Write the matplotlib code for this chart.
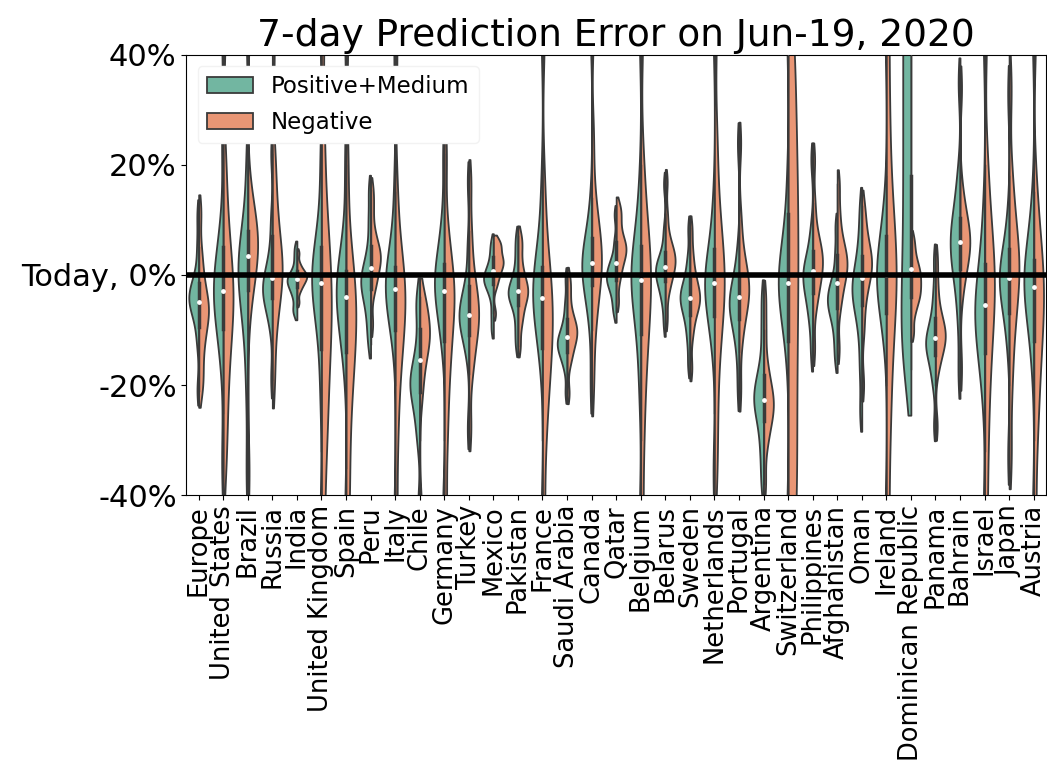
import matplotlib
matplotlib.use("Agg")
import matplotlib.pyplot as plt
import numpy as np
import pandas as pd
import seaborn as sns

COUNTRIES = [
    "Europe", "United States", "Brazil", "Russia", "India", "United Kingdom",
    "Spain", "Peru", "Italy", "Chile", "Germany", "Turkey", "Mexico",
    "Pakistan", "France", "Saudi Arabia", "Canada", "Qatar", "Belgium",
    "Belarus", "Sweden", "Netherlands", "Portugal", "Argentina",
    "Switzerland", "Philippines", "Afghanistan", "Oman", "Ireland",
    "Dominican Republic", "Panama", "Bahrain", "Israel", "Japan", "Austria",
]

# prediction errors (%), one list per country
POSITIVE = [
    [-21, -12, -8, -6, -5, -4.5, -4, -3, -2, 0, 5, 11],
    [-34, -15, -9, -6, -4, -3, -2, 0, 3, 8, 25, 45],
    [-36, -20, -10, -5, -2, 0, 1.5, 3, 5, 8, 20, 45],
    [-19, -9, -6, -4, -3, -2.5, -2, -1, 1, 4, 10, 22],
    [-7, -6, -4, -3, -2, -1.5, -1, -0.5, 0, 1, 3, 5],
    [-45, -20, -8, -4, -2, -1, 0, 1, 2, 5, 20, 45],
    [-45, -14, -10, -6, -4, -3, -2, -1, 0, 3, 20, 45],
    [-12.5, -9, -6, -4, -2.5, -1.5, -0.5, 0.5, 2, 5, 10, 15.5],
    [-45, -10, -6, -4, -3, -2, -1, 0, 1, 3, 15, 40],
    [-42, -30, -26, -23, -21, -20, -19, -18, -16, -12, -6, -4],
    [-42, -12, -8, -5, -3, -2, -1, 0.5, 2, 5, 10, 22],
    [-28, -14, -11, -9, -8, -7.5, -7, -6, -4, -2, 5, 17],
    [-10, -7, -4, -2.5, -1.5, -1, -0.5, 0, 1, 2, 4, 6],
    [-13, -10, -7, -5, -4, -3.5, -3, -2, -1, 1, 4, 7],
    [-45, -14, -9, -6, -4.5, -3.5, -2.5, -1, 1, 4, 15, 45],
    [-21.5, -17, -15, -14, -13, -12.5, -12, -11, -10, -8, -5, -0.5],
    [-20, -8, -4, -1, 0.5, 1.5, 2, 3, 4, 6, 12, 45],
    [-7, -5, -3, -2, -1, -0.5, 0, 1, 2, 3, 6, 11],
    [-45, -20, -10, -5, -2, -1, 0, 1, 3, 6, 15, 45],
    [-9, -5, -3, -1.5, -0.5, 0.5, 1, 1.5, 2.5, 4, 8, 16.5],
    [-16.5, -12, -9, -7, -5.5, -4.5, -4, -3, -2, 0, 3, 8.5],
    [-36, -12, -7, -4, -3, -2, -1, 0, 1, 4, 12, 45],
    [-21, -14, -10, -8, -6, -5.5, -5, -4, -2.5, -0.5, 4, 24],
    [-38, -33, -29, -26, -24, -23, -22, -20.5, -19, -16, -10, -4],
    [-45, -12, -6, -4, -2.5, -1.5, -0.5, 0.5, 2, 5, 15, 45],
    [-14.5, -9, -6, -4, -2, -1, 0, 1, 2, 4, 8, 21],
    [-15.5, -12, -9, -7, -6, -5, -4, -3, -2, 0, 4, 9],
    [-25, -17, -11, -7, -5, -3.5, -2.5, -1, 0.5, 3, 7, 12.5],
    [-45, -10, -5, -3, -1.5, -0.5, 0.5, 1.5, 3, 6, 12, 45],
    [-17, -13, -8, -2, 4, 11, 18, 25, 32, 39, 46, 53, 60],
    [-27.5, -20, -17, -15, -13.5, -12.5, -12, -11, -9.5, -7, -3, 3],
    [-18, -8, -2, 1, 3, 5, 6.5, 8, 10, 13, 18, 35],
    [-45, -20, -14, -11, -9, -7, -6, -4, -2, 1, 10, 45],
    [-33, -12, -7, -4, -2, -1, -0.5, 0.5, 2, 4, 10, 33],
    [-45, -15, -8, -5, -3, -1.5, -0.5, 0.5, 2, 5, 12, 45],
]

NEGATIVE = [
    [-21, -18, -14, -11, -9, -7, -6, -5, -3, 0, 4, 11.5],
    [-34, -25, -18, -12, -8, -5, -3, 0, 4, 10, 20, 45],
    [-36, -5, 0, 2, 4, 5, 6, 7, 8, 10, 14, 45],
    [-19, -10, -5, -2, 0, 1.5, 3, 6, 10, 15, 22, 40],
    [-5, -3, -2, -1.5, -1, -0.5, -0.2, 0, 0.5, 1, 2, 4],
    [-45, -32, -25, -18, -12, -8, -4, 0, 5, 12, 25, 45],
    [-45, -35, -25, -18, -14, -10, -7, -4, -1, 3, 20, 45],
    [-9, -3, -1, 0.5, 2, 3, 3.5, 4.5, 6, 8, 12, 15.5],
    [-45, -30, -20, -14, -10, -7, -4, -2, 0, 3, 15, 40],
    [-42, -22, -18, -15, -13, -12, -11, -10, -9, -7, -5, -4],
    [-42, -30, -22, -16, -12, -8, -5, -3, -1, 2, 8, 22],
    [-28, -18, -14, -11, -9, -7.5, -6, -4, -2, 2, 8, 17],
    [-7, -2, -0.5, 0.5, 1.5, 2, 2.5, 3, 4, 5, 6, 6],
    [-13, -9, -7, -5, -4, -3, -2.5, -1.5, 0, 2, 5, 7],
    [-45, -30, -22, -17, -13, -10, -7, -4, -1, 3, 15, 45],
    [-21.5, -16, -14, -12.5, -11.5, -10.5, -10, -9, -8, -6, -3, -0.5],
    [-20, -10, -5, -1, 1, 2.5, 4, 6, 9, 14, 25, 45],
    [-5, -1, 1, 2.5, 3.5, 4.5, 5, 6, 7, 9, 11, 12.5],
    [-45, -30, -20, -13, -8, -4, -1, 2, 5, 10, 20, 45],
    [-8, -3, -1, 0.5, 1.5, 2.5, 3, 4, 5, 7, 11, 17],
    [-17, -11, -8, -6, -5, -4.5, -3.5, -2.5, -1, 1, 4, 8.5],
    [-36, -25, -15, -9, -5, -2, 0, 3, 7, 14, 25, 45],
    [-21, -12, -8, -5.5, -4, -3, -2, -0.5, 1.5, 4, 10, 24],
    [-38, -31, -28, -26, -24.5, -23.5, -22.5, -21, -19, -16, -10, -4],
    [-50, -42, -34, -26, -18, -10, -3, 4, 11, 18, 26, 35, 45],
    [-13.5, -6, -3, -1, 0.5, 2, 3, 4, 5.5, 8, 13, 21],
    [-13.5, -6, -3, -1, 0.5, 1.5, 2.5, 3.5, 5, 7, 11, 16.5],
    [-20, -10, -5, -2, 0, 1, 2, 3, 4.5, 6, 9, 12.5],
    [-45, -30, -20, -12, -6, -2, 1, 5, 10, 18, 30, 45],
    [-10.5, -7, -5, -4, -3, -2, -1, 0, 1, 2, 4, 6.5],
    [-27.5, -17, -14.5, -13, -12, -11, -10.5, -9.5, -8, -6, -2, 3],
    [-17, -3, 1, 3, 4.5, 5.5, 6.5, 7.5, 9, 11, 15, 34],
    [-45, -32, -22, -15, -9, -5, -2, 1, 5, 10, 20, 45],
    [-33, -20, -12, -7, -3, -0.5, 1.5, 4, 7, 11, 18, 34],
    [-45, -30, -22, -16, -11, -7, -4, -1, 2, 6, 15, 45],
]

GROUPS = ["Positive+Medium", "Negative"]
Y_TICKS = [-40, -20, 0, 20, 40]
Y_TICK_LABELS = ["-40%", "-20%", "Today, 0%", "20%", "40%"]


def build_frame() -> pd.DataFrame:
    rows = []
    for country, pos, neg in zip(COUNTRIES, POSITIVE, NEGATIVE):
        for value in pos:
            rows.append({"country": country, "group": GROUPS[0], "error": value})
        for value in neg:
            rows.append({"country": country, "group": GROUPS[1], "error": value})
    return pd.DataFrame(rows)


def main() -> None:
    df = build_frame()
    fig = plt.figure(figsize=(10.47, 7.81), dpi=100)
    ax = fig.add_axes([0.178, 0.366, 0.821, 0.564])

    sns.violinplot(
        data=df,
        x="country",
        y="error",
        hue="group",
        hue_order=GROUPS,
        order=COUNTRIES,
        split=True,
        inner=None,
        cut=1,
        density_norm="width",
        bw_adjust=0.55,
        palette="Set2",
        linewidth=1.3,
        linecolor="#3a3a3a",
        width=0.8,
        ax=ax,
    )

    # inner box drawn at the centre of each split violin
    for i, (pos, neg) in enumerate(zip(POSITIVE, NEGATIVE)):
        values = np.array(pos + neg, dtype=float)
        q1, med, q3 = np.percentile(values, [25, 50, 75])
        iqr = q3 - q1
        lo = values[values >= q1 - 1.5 * iqr].min()
        hi = values[values <= q3 + 1.5 * iqr].max()
        ax.plot([i, i], [lo, hi], color="#3a3a3a", linewidth=1.0, zorder=3)
        ax.plot([i, i], [q1, q3], color="#3a3a3a", linewidth=2.5, zorder=3)
        ax.scatter(i, med, s=6, color="white", zorder=4)

    ax.axhline(0, color="black", linewidth=4, zorder=5)
    ax.set_ylim(-40, 40)
    ax.set_xlim(-0.5, len(COUNTRIES) - 0.5)
    ax.set_yticks(Y_TICKS)
    ax.set_yticklabels(Y_TICK_LABELS, fontsize=22)
    ax.set_xticks(range(len(COUNTRIES)))
    ax.set_xticklabels(COUNTRIES, rotation=90, fontsize=18.5)
    ax.set_xlabel("")
    ax.set_ylabel("")
    ax.set_title("7-day Prediction Error on Jun-19, 2020", fontsize=27)

    handles, labels = ax.get_legend_handles_labels()
    ax.legend(handles, labels, loc="upper left", fontsize=16.5,
              framealpha=1.0, edgecolor="#f2f2f2", labelspacing=0.55)

    fig.savefig("out.png", dpi=100)
    plt.close(fig)


if __name__ == "__main__":
    main()
